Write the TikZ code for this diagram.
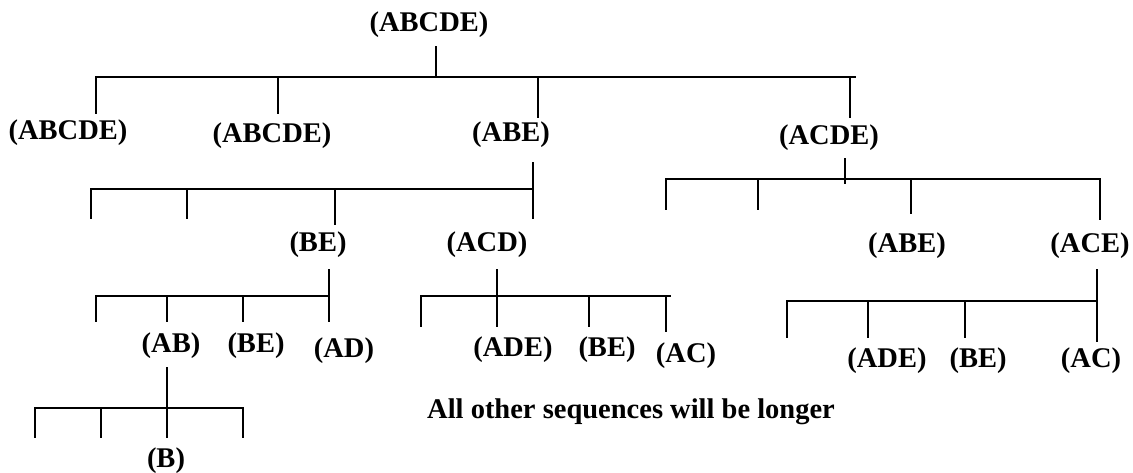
\documentclass[tikz,border=0pt]{standalone}
\usepackage{fontspec}
\setmainfont{Liberation Serif}
\begin{document}
\begin{tikzpicture}[x=1pt,y=-1pt,
  lbl/.style={anchor=base,inner sep=0pt,font=\fontsize{28.5}{32}\selectfont\bfseries},
  conn/.style={line width=1.5pt,line cap=rect}]
\useasboundingbox[fill=white] (0,0) rectangle (1133,473);
% labels
\node[lbl] (r) at (429,32) {(ABCDE)};
\node[lbl] (a1) at (68,140) {(ABCDE)};
\node[lbl] (a2) at (272,143) {(ABCDE)};
\node[lbl] (a3) at (511,142) {(ABE)};
\node[lbl] (a4) at (829,145) {(ACDE)};
\node[lbl] (b3) at (318,252) {(BE)};
\node[lbl] (b4) at (487,252) {(ACD)};
\node[lbl] (c3) at (907,253) {(ABE)};
\node[lbl] (c4) at (1090,253) {(ACE)};
\node[lbl] (d2) at (171,352) {(AB)};
\node[lbl] (d3) at (256,352) {(BE)};
\node[lbl] (d4) at (344,357) {(AD)};
\node[lbl] (e2) at (513,356) {(ADE)};
\node[lbl] (e3) at (607,356) {(BE)};
\node[lbl] (e4) at (686,362) {(AC)};
\node[lbl] (f2) at (887,367) {(ADE)};
\node[lbl] (f3) at (978,367) {(BE)};
\node[lbl] (f4) at (1091,367) {(AC)};
\node[lbl] (g3) at (166,467) {(B)};
\node[lbl,anchor=base west] (note) at (427,418) {All other sequences will be longer};
% root tree
\coordinate (rt) at (436,47); \coordinate (rb) at (436,77);
\coordinate (rl) at (96,77); \coordinate (rr) at (855,77);
\draw[conn] (rt) -- (rb);
\draw[conn] (rl) -- (rr);
\draw[conn] (rl) -- (96,113);
\draw[conn] (278,77) -- (278,113);
\draw[conn] (538,77) -- (538,117);
\draw[conn] (850,77) -- (850,117);
% ABE subtree
\coordinate (at) at (533,163); \coordinate (al) at (91,189); \coordinate (ar) at (533,189);
\draw[conn] (at) -- (533,218);
\draw[conn] (al) -- (ar);
\draw[conn] (al) -- (91,218);
\draw[conn] (187,189) -- (187,218);
\draw[conn] (335,189) -- (335,224);
% ACDE subtree
\coordinate (ct) at (845,159); \coordinate (cl) at (666,179); \coordinate (cr) at (1100,179);
\draw[conn] (ct) -- (845,183);
\draw[conn] (cl) -- (cr);
\draw[conn] (cl) -- (666,209);
\draw[conn] (758,179) -- (758,209);
\draw[conn] (911,179) -- (911,213);
\draw[conn] (cr) -- (1100,219);
% BE subtree
\coordinate (bt) at (329,270); \coordinate (bl) at (96,296); \coordinate (br) at (329,296);
\draw[conn] (bt) -- (329,321);
\draw[conn] (bl) -- (br);
\draw[conn] (bl) -- (96,321);
\draw[conn] (167,296) -- (167,321);
\draw[conn] (243,296) -- (243,321);
% ACD subtree
\coordinate (dt) at (497,270); \coordinate (dl) at (421,296); \coordinate (dr) at (670,296);
\draw[conn] (dt) -- (497,326);
\draw[conn] (dl) -- (dr);
\draw[conn] (dl) -- (421,326);
\draw[conn] (589,296) -- (589,326);
\draw[conn] (666,296) -- (666,331);
% ACE subtree
\coordinate (et) at (1097,270); \coordinate (el) at (787,301); \coordinate (er) at (1097,301);
\draw[conn] (et) -- (1097,341);
\draw[conn] (el) -- (er);
\draw[conn] (el) -- (787,337);
\draw[conn] (868,301) -- (868,337);
\draw[conn] (965,301) -- (965,337);
% AB subtree
\coordinate (ft) at (167,368); \coordinate (fl) at (35,408); \coordinate (fr) at (243,408);
\draw[conn] (ft) -- (167,437);
\draw[conn] (fl) -- (fr);
\draw[conn] (fl) -- (35,437);
\draw[conn] (101,408) -- (101,437);
\draw[conn] (fr) -- (243,437);
\end{tikzpicture}
\end{document}
